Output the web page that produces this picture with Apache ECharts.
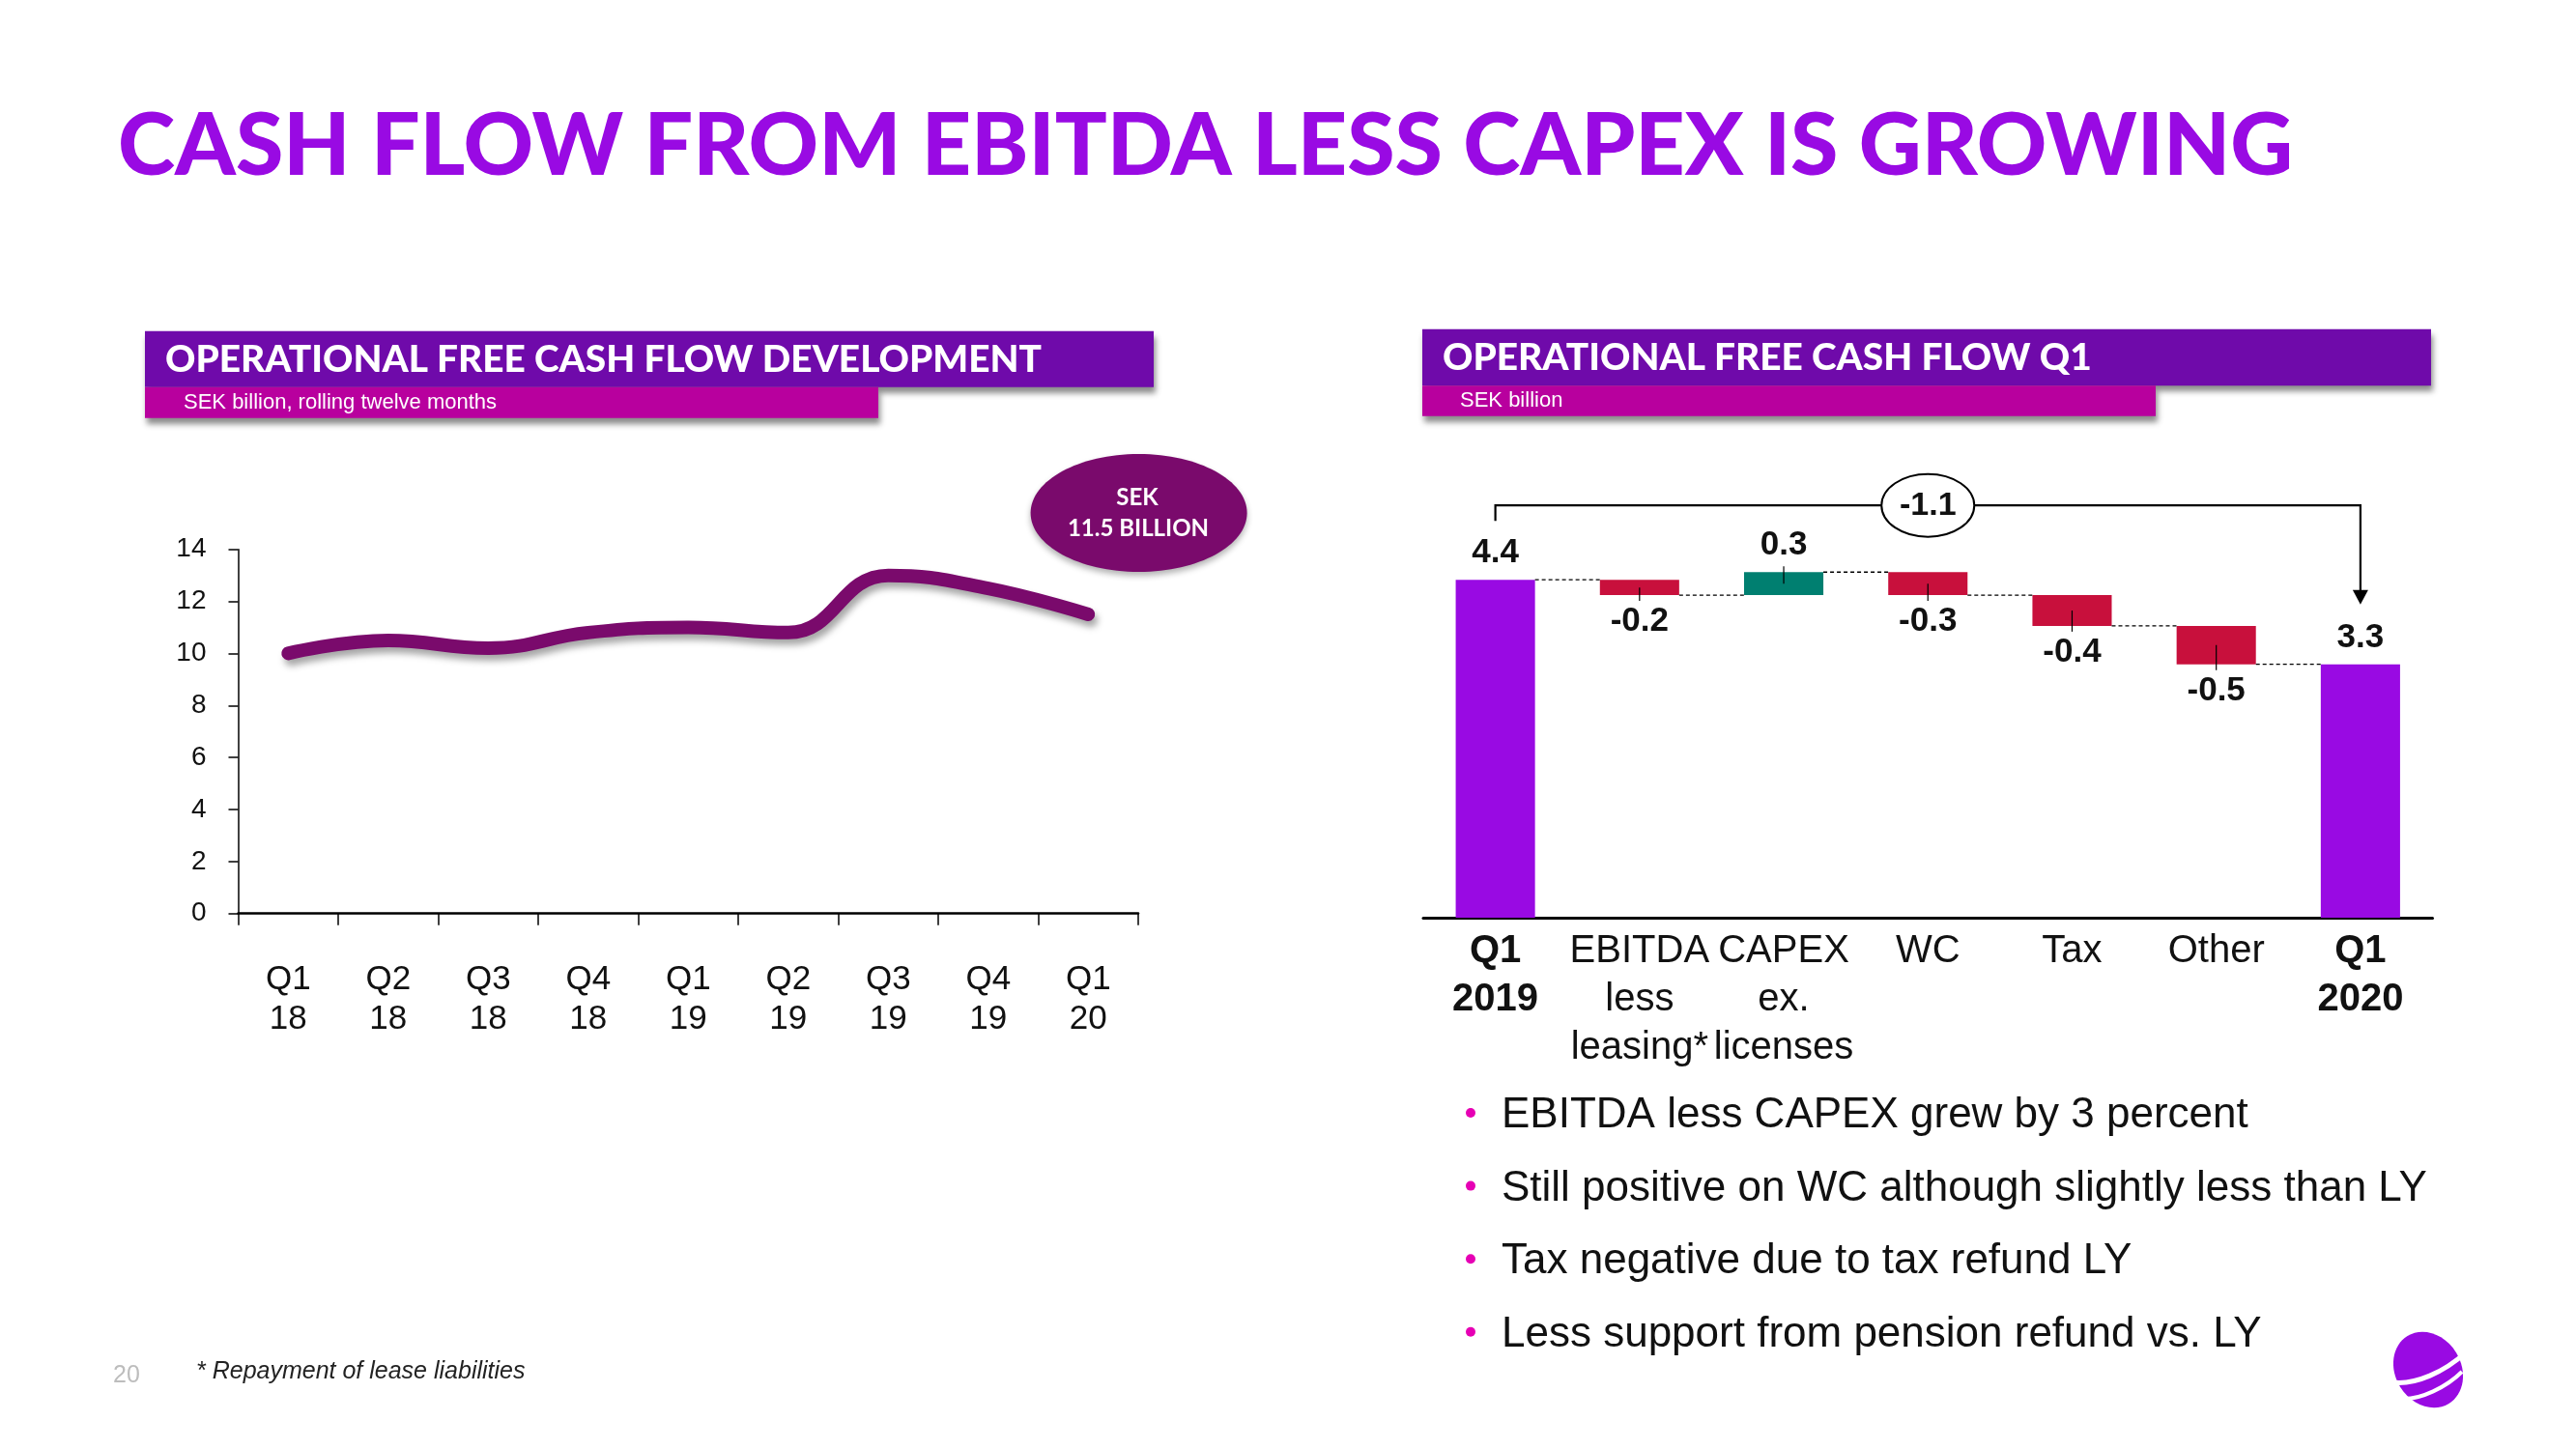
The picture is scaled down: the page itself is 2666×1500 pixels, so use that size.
<!DOCTYPE html>
<html><head><meta charset="utf-8">
<script src="https://cdn.jsdelivr.net/npm/echarts@6/dist/echarts.min.js"></script>
<style>html,body{margin:0;padding:0;background:#fff}#c{width:2666px;height:1500px}</style>
</head><body><div id="c"></div>
<script>
// ---- data ----
const lineCategories = ['Q1\n18','Q2\n18','Q3\n18','Q4\n18','Q1\n19','Q2\n19','Q3\n19','Q4\n19','Q1\n20'];
const lineValues = [10.0, 10.5, 10.2, 10.8, 11.0, 10.8, 13.0, 12.5, 11.5];
const lineAxisMin = 0, lineAxisMax = 14, lineAxisInterval = 2;

const wfCategories = ['Q1\n2019','EBITDA\nless\nleasing*','CAPEX\nex.\nlicenses','WC','Tax','Other','Q1\n2020'];
const wfStart = 4.4;
const wfDeltas = [-0.2, 0.3, -0.3, -0.4, -0.5];
const wfEnd = 3.3;

const bullets = [
  'EBITDA less CAPEX grew by 3 percent',
  'Still positive on WC although slightly less than LY',
  'Tax negative due to tax refund LY',
  'Less support from pension refund vs. LY'
];

// ---- style constants ----
const PURPLE = '#990AE3', DEEP = '#6F0AAA', MAGENTA = '#B8009E', PINK = '#E600B4';
const PLUM = '#7A0A6C', RED = '#C8103C', TEAL = '#007F70';
const SANS = "'Liberation Sans', Arial, sans-serif";
const HEAD = "Lato, 'Open Sans', sans-serif";
const BAR_RATIO = 0.55;

// ---- waterfall derivation ----
const wfDisplay = [wfStart, ...wfDeltas, wfEnd];
const wfBase = [0], wfVis = [], wfLevels = [wfStart];
wfVis.push({value: wfStart, itemStyle:{color: PURPLE}, label:{position:'top'}});
let run = wfStart;
const tickData = [];
wfDeltas.forEach((d, k) => {
  const next = Math.round((run + d) * 1000) / 1000;
  const lo = Math.min(run, next), hi = Math.max(run, next);
  wfBase.push(lo);
  wfVis.push({value: Math.abs(d), itemStyle:{color: d >= 0 ? TEAL : RED}, label:{position: d >= 0 ? 'top' : 'bottom'}});
  tickData.push([k + 1, (lo + hi) / 2, d >= 0 ? hi : lo, d >= 0 ? 1 : -1]);
  run = next;
  wfLevels.push(run);
});
wfBase.push(0);
wfVis.push({value: wfEnd, itemStyle:{color: PURPLE}, label:{position:'top'}});
const connectorData = wfLevels.map((lv, i) => [i, lv]);

const chart = echarts.init(document.getElementById('c'), null, {renderer:'canvas'});

const labelStyle = {fontFamily: SANS, fontSize: 40, lineHeight: 50, color: '#111'};
const T = (x, y, text, font, fill, align, z) => ({type:'text', x:x, y:y, z:z || 10,
  style:{text:text, font:font, fill:fill, textAlign:align || 'left', textVerticalAlign:'middle',
         align:align || 'left', verticalAlign:'middle'}});

const option = {
  animation: false,
  backgroundColor: '#fff',
  grid: [
    {left: 246.5, top: 568.7, width: 931.5, height: 377, containLabel: false},
    {left: 1473, top: 552.5, width: 1044.5, height: 397.5, containLabel: false}
  ],
  xAxis: [
    {type:'category', gridIndex:0, data: lineCategories, boundaryGap: true,
     axisLine:{lineStyle:{color:'#000', width:2.5}},
     axisTick:{show:true, length:12, lineStyle:{color:'#000', width:1.5}},
     axisLabel:{interval:0, margin:48, fontFamily:SANS, fontSize:35, lineHeight:41, color:'#111'}},
    {type:'category', gridIndex:1, data: wfCategories,
     axisLine:{lineStyle:{color:'#000', width:3}},
     axisTick:{show:false},
     axisLabel:{interval:0, margin:10, color:'#111',
       formatter: (v, idx) => {
         const bold = idx === 0 || idx === wfCategories.length - 1;
         return v.split('\n').map(s => '{' + (bold ? 'b' : 'n') + '|' + s + '}').join('\n');
       },
       rich:{
         b: Object.assign({}, labelStyle, {fontWeight:'bold'}),
         n: Object.assign({}, labelStyle)
       }}}
  ],
  yAxis: [
    {type:'value', gridIndex:0, min: lineAxisMin, max: lineAxisMax, interval: lineAxisInterval,
     axisLine:{show:true, lineStyle:{color:'#000', width:1.5}},
     axisTick:{show:true, length:10, lineStyle:{color:'#000', width:1.5}},
     splitLine:{show:false},
     axisLabel:{margin:33, fontFamily:SANS, fontSize:28, color:'#111'}},
    {type:'value', gridIndex:1, min:0, max:5, show:false, splitLine:{show:false}}
  ],
  series: [
    {type:'line', xAxisIndex:0, yAxisIndex:0, data: lineValues, smooth: 0.45,
     symbol:'none', z:5,
     lineStyle:{color: PLUM, width:14, cap:'round', join:'round',
       shadowColor:'rgba(0,0,0,0.35)', shadowBlur:7, shadowOffsetX:3, shadowOffsetY:6}},
    {type:'bar', xAxisIndex:1, yAxisIndex:1, stack:'wf', data: wfBase, barWidth: (BAR_RATIO*100)+'%',
     itemStyle:{color:'transparent'}, silent:true, label:{show:false}},
    {type:'bar', xAxisIndex:1, yAxisIndex:1, stack:'wf', data: wfVis, barWidth: (BAR_RATIO*100)+'%',
     label:{show:true, distance:10, fontFamily:SANS, fontWeight:'bold', fontSize:35, color:'#111',
       formatter: p => wfDisplay[p.dataIndex].toFixed(1)}},
    {type:'custom', xAxisIndex:1, yAxisIndex:1, data: connectorData.slice(0, wfCategories.length - 1), clip:false, z:3,
     renderItem: (params, api) => {
       const i = api.value(0), lv = api.value(1);
       const p1 = api.coord([i, lv]), p2 = api.coord([i + 1, lv]);
       const hw = api.size([1, 0])[0] * BAR_RATIO / 2;
       return {type:'line', shape:{x1: p1[0] + hw, y1: p1[1], x2: p2[0] - hw, y2: p2[1]},
               style:{stroke:'#000', lineWidth:1.3, lineDash:[4, 3]}};
     }},
    {type:'custom', xAxisIndex:1, yAxisIndex:1, data: tickData, clip:false, z:4,
     renderItem: (params, api) => {
       const i = api.value(0);
       const pm = api.coord([i, api.value(1)]), pe = api.coord([i, api.value(2)]);
       const dir = api.value(3) > 0 ? -1 : 1;
       return {type:'line', shape:{x1: pm[0], y1: pm[1], x2: pe[0], y2: pe[1] + dir * 6},
               style:{stroke:'#000', lineWidth:1.2}};
     }},
    {type:'custom', xAxisIndex:1, yAxisIndex:1, data: [[0, wfStart, wfCategories.length - 1, wfEnd]], clip:false, z:6,
     renderItem: (params, api) => {
       const a = api.coord([api.value(0), api.value(1)]);
       const b = api.coord([api.value(2), api.value(3)]);
       const yTop = a[1] - 77;
       const tipY = b[1] - 62;
       const cx = (a[0] + b[0]) / 2;
       const txt = (wfEnd - wfStart).toFixed(1);
       return {type:'group', children:[
         {type:'polyline', shape:{points:[[a[0], a[1] - 61], [a[0], yTop], [b[0], yTop], [b[0], tipY - 12]]},
          style:{stroke:'#000', lineWidth:2.2, fill:null}},
         {type:'polygon', shape:{points:[[b[0] - 8, tipY - 15], [b[0] + 8, tipY - 15], [b[0], tipY]]},
          style:{fill:'#000'}},
         {type:'ellipse', shape:{cx: cx, cy: yTop, rx: 48, ry: 32.5},
          style:{fill:'#fff', stroke:'#000', lineWidth:2}},
         {type:'text', x: cx, y: yTop,
          style:{text: txt, font: 'bold 34px ' + SANS, fill:'#111',
                 textAlign:'center', textVerticalAlign:'middle', align:'center', verticalAlign:'middle'}}
       ]};
     }}
  ],
  graphic: {elements: [
    T(122, 152, 'CASH FLOW FROM EBITDA LESS CAPEX IS GROWING', '900 89.6px ' + HEAD, PURPLE),
    {type:'rect', shape:{x:150, y:342.7, width:1044, height:58}, z:10,
     style:{fill: DEEP, shadowColor:'rgba(0,0,0,0.45)', shadowBlur:6, shadowOffsetY:6, shadowOffsetX:2}},
    {type:'rect', shape:{x:150, y:400.7, width:759, height:32}, z:11,
     style:{fill: MAGENTA, shadowColor:'rgba(0,0,0,0.45)', shadowBlur:6, shadowOffsetY:6, shadowOffsetX:2}},
    T(171, 372, 'OPERATIONAL FREE CASH FLOW DEVELOPMENT', '900 38.8px ' + HEAD, '#fff', 'left', 12),
    T(190, 416.5, 'SEK billion, rolling twelve months', '22px ' + SANS, '#fff', 'left', 12),
    {type:'rect', shape:{x:1472, y:340.7, width:1044, height:58.6}, z:10,
     style:{fill: DEEP, shadowColor:'rgba(0,0,0,0.45)', shadowBlur:6, shadowOffsetY:6, shadowOffsetX:2}},
    {type:'rect', shape:{x:1472, y:399.3, width:759, height:31.4}, z:11,
     style:{fill: MAGENTA, shadowColor:'rgba(0,0,0,0.45)', shadowBlur:6, shadowOffsetY:6, shadowOffsetX:2}},
    T(1493, 370.5, 'OPERATIONAL FREE CASH FLOW Q1', '900 38.8px ' + HEAD, '#fff', 'left', 12),
    T(1511, 415, 'SEK billion', '22px ' + SANS, '#fff', 'left', 12),
    {type:'ellipse', shape:{cx:1178.6, cy:531, rx:112, ry:61}, z:10,
     style:{fill: PLUM, shadowColor:'rgba(0,0,0,0.3)', shadowBlur:6, shadowOffsetY:4}},
    T(1177, 515, 'SEK', 'bold 24px ' + HEAD, '#fff', 'center', 11),
    T(1178, 547, lineValues[lineValues.length - 1].toFixed(1) + ' BILLION', 'bold 24px ' + HEAD, '#fff', 'center', 11),
    T(117, 1424, '20', '25px ' + SANS, '#BDBDBD'),
    T(203, 1420, '* Repayment of lease liabilities', 'italic 25px ' + SANS, '#222'),
    // logo (approximation)
    {type:'ellipse', x:2513, y:1418, rotation:0.55, z:10, shape:{cx:0, cy:0, rx:34, ry:41}, style:{fill: PURPLE}},
    {type:'bezierCurve', z:11, shape:{x1:2476, y1:1431, cpx1:2500, cpy1:1434, cpx2:2530, cpy2:1420, x2:2552, y2:1400},
     style:{fill:null, stroke:'#fff', lineWidth:5}},
    {type:'bezierCurve', z:11, shape:{x1:2486, y1:1448, cpx1:2505, cpy1:1449, cpx2:2532, cpy2:1436, x2:2548, y2:1420},
     style:{fill:null, stroke:'#fff', lineWidth:4}}
  ].concat(bullets.flatMap((t, k) => {
    const y = 1155 + k * 75.6;
    return [
      {type:'circle', shape:{cx:1522, cy:y - 3, r:5}, z:10, style:{fill: PINK}},
      T(1554, y, t, '44px ' + SANS, '#111')
    ];
  }))}
};
chart.setOption(option);
</script>
</body></html>
